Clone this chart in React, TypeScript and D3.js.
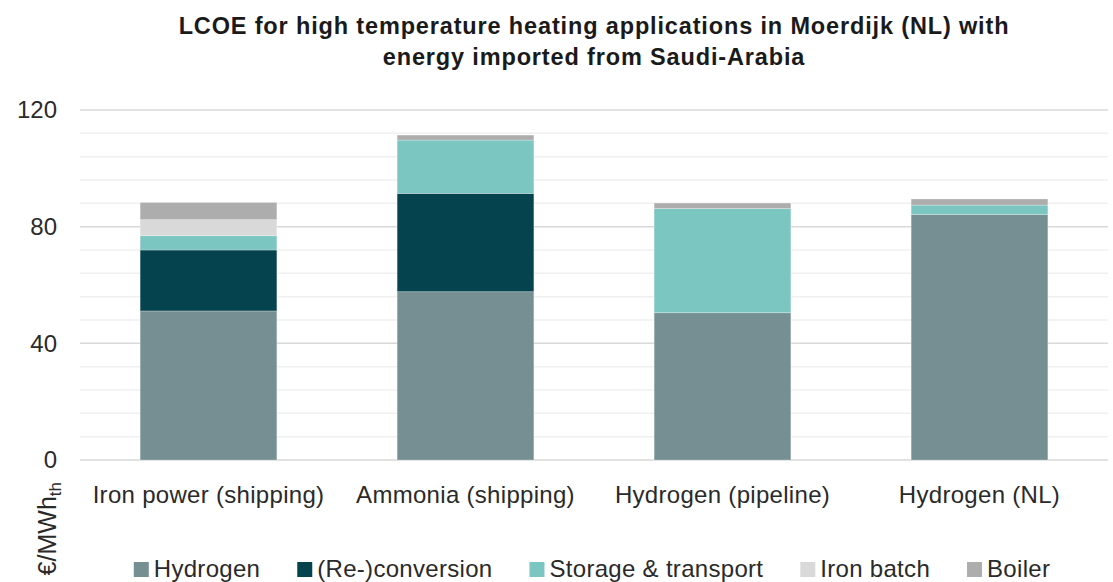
import React, { useEffect, useRef } from "react";
import * as d3 from "d3";

const categories = ["Iron power (shipping)", "Ammonia (shipping)", "Hydrogen (pipeline)", "Hydrogen (NL)"];
const seriesNames = ["Hydrogen", "(Re-)conversion", "Storage & transport", "Iron batch", "Boiler"];
const hydrogen = [51.1, 57.7, 50.5, 84.2];
const reconversion = [20.9, 33.7, 0, 0];
const storageTransport = [4.9, 18.3, 35.7, 3.2];
const ironBatch = [5.5, 0, 0, 0];
const boiler = [5.9, 1.7, 1.9, 2.1];
const seriesColors = ["#768f93", "#05444e", "#7cc6c2", "#d9d9d9", "#adadad"];
const majorTicks = [0, 40, 80, 120];
const minorTicks = [8, 16, 24, 32, 48, 56, 64, 72, 88, 96, 104, 112];

const W = 1113;
const H = 582;
const FONT = "'Liberation Sans', Arial, Helvetica, sans-serif";

export default function App() {
  const ref = useRef<SVGSVGElement | null>(null);

  useEffect(() => {
    const svg = d3.select(ref.current);
    svg.selectAll("*").remove();

    const x = d3.scaleBand().domain(categories).range([80, 1108]).paddingInner(0.468).paddingOuter(0.234);
    const y = d3.scaleLinear().domain([0, 120]).range([460, 110]);

    const seriesData = [hydrogen, reconversion, storageTransport, ironBatch, boiler];
    const rows = categories.map((c, i) => {
      const r: any = { cat: c };
      seriesNames.forEach((s, j) => (r[s] = seriesData[j][i]));
      return r;
    });
    const stacked = d3.stack().keys(seriesNames)(rows);

    // title
    const title = svg.append("text").attr("text-anchor", "middle")
      .attr("font-family", FONT).attr("font-size", 23.5).attr("font-weight", "bold")
      .attr("letter-spacing", 0.85).attr("fill", "#1a1a1a");
    title.append("tspan").attr("x", 594).attr("y", 34).text("LCOE for high temperature heating applications in Moerdijk (NL) with");
    title.append("tspan").attr("x", 594).attr("y", 65).text("energy imported from Saudi-Arabia");

    // gridlines
    svg.append("g").selectAll("line").data(minorTicks).join("line")
      .attr("x1", 80).attr("x2", 1108)
      .attr("y1", (d) => y(d)).attr("y2", (d) => y(d))
      .attr("stroke", "#f0f0f0").attr("stroke-width", 1.5);
    svg.append("g").selectAll("line").data(majorTicks).join("line")
      .attr("x1", 80).attr("x2", 1108)
      .attr("y1", (d) => y(d)).attr("y2", (d) => y(d))
      .attr("stroke", "#d9d9d9").attr("stroke-width", 1.5);

    // bars
    svg.append("g").selectAll("g").data(stacked).join("g")
      .attr("fill", (_d, i) => seriesColors[i])
      .selectAll("rect").data((d) => d.filter((p) => p[1] - p[0] > 0)).join("rect")
      .attr("x", (d: any) => x(d.data.cat)!)
      .attr("width", x.bandwidth())
      .attr("y", (d) => y(d[1]))
      .attr("height", (d) => y(d[0]) - y(d[1]))
      .attr("stroke", "rgba(255,255,255,0.35)").attr("stroke-width", 0.75);

    // y ticks
    svg.append("g").selectAll("text").data(majorTicks).join("text")
      .attr("x", 57).attr("y", (d) => y(d)).attr("dy", "0.35em")
      .attr("text-anchor", "end").attr("font-family", FONT).attr("font-size", 24).attr("fill", "#2a2a2a")
      .text((d) => d3.format("d")(d));

    // x labels
    svg.append("g").selectAll("text").data(categories).join("text")
      .attr("x", (d) => x(d)! + x.bandwidth() / 2).attr("y", 503)
      .attr("text-anchor", "middle").attr("font-family", FONT).attr("font-size", 24)
      .attr("letter-spacing", 0.3).attr("fill", "#2a2a2a")
      .text((d) => d);

    // y axis title
    const yt = svg.append("text").attr("transform", "translate(56,482) rotate(-90)")
      .attr("text-anchor", "end").attr("font-family", FONT).attr("font-size", 25).attr("fill", "#2a2a2a");
    yt.append("tspan").text("€/MWh");
    yt.append("tspan").attr("font-size", 17).attr("dy", 5).text("th");

    // legend
    const lg = svg.append("g");
    const items = lg.selectAll("g").data(seriesNames).join("g");
    items.append("rect").attr("width", 15).attr("height", 15).attr("y", -15)
      .attr("fill", (_d, i) => seriesColors[i]);
    items.append("text").attr("x", 20).attr("y", 0)
      .attr("font-family", FONT).attr("font-size", 24).attr("letter-spacing", 0.3)
      .attr("fill", "#2a2a2a").text((d) => d);
    const widths: number[] = [];
    items.each(function () {
      const t = d3.select(this).select("text").node() as SVGTextElement;
      widths.push(20 + t.getComputedTextLength());
    });
    const gap = 37;
    const total = d3.sum(widths) + gap * (widths.length - 1);
    let cx = 592 - total / 2;
    items.each(function (_d, i) {
      d3.select(this).attr("transform", `translate(${cx},577)`);
      cx += widths[i] + gap;
    });
  }, []);

  return (
    <svg ref={ref} width={W} height={H} style={{ display: "block", position: "absolute", left: 0, top: 0, background: "#fff" }} />
  );
}
